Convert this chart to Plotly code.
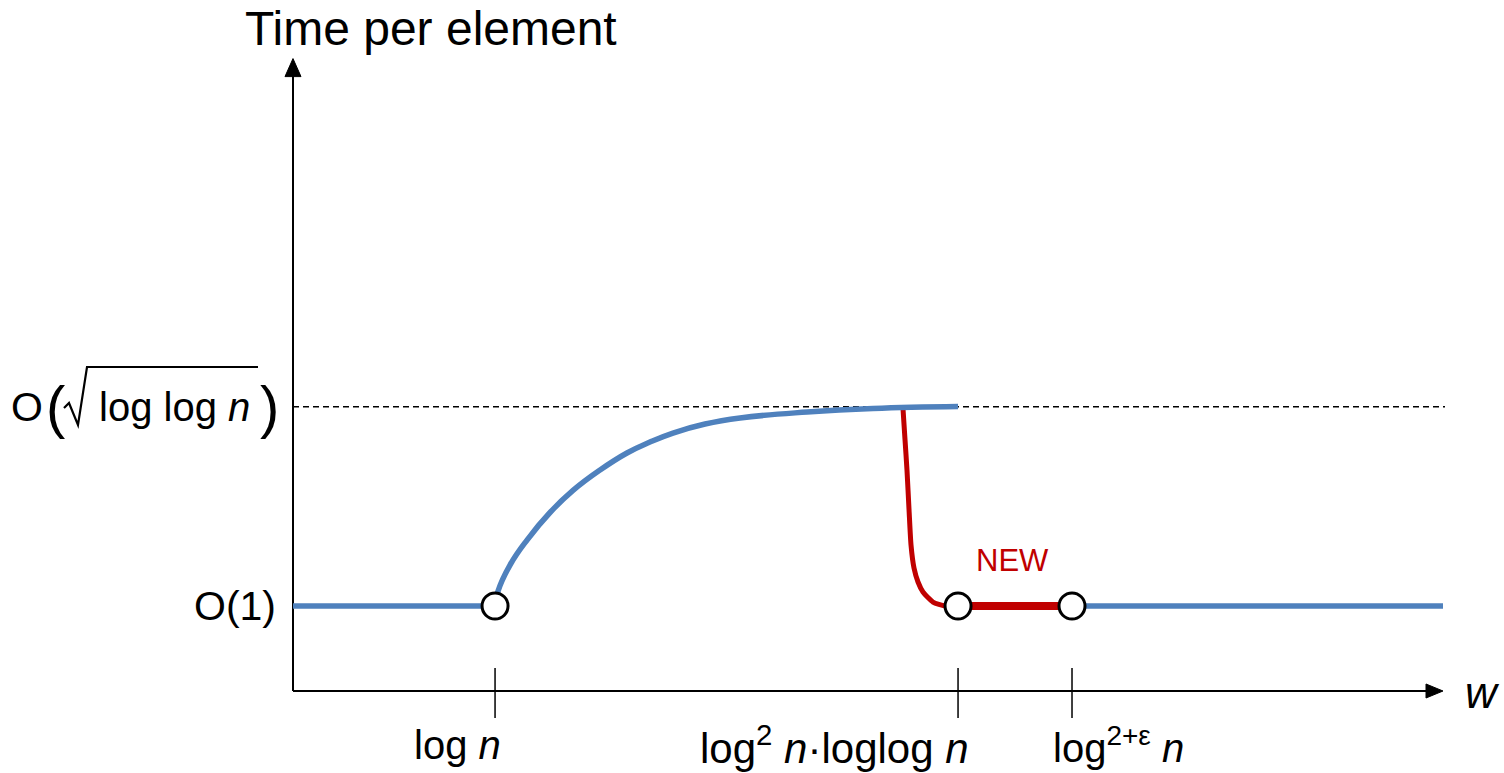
import plotly.graph_objects as go

# ---------------- data (abstract units: x = w, y = time per element) ----------------
Y_O1 = 1.0            # O(1) level
Y_SQRT = 3.345        # O(sqrt(loglog n)) level
X_END = 100.0         # end of the x axis
Y_AXIS_TOP = 7.44     # end of the y axis

tick_x = [17.57, 57.83, 67.74]
tick_labels = ["log <i>n</i>", "log<sup>2</sup> <i>n</i>·loglog <i>n</i>", "log<sup>2+ε</sup> <i>n</i>"]
tick_label_x = [14.3, 47.1, 71.8]
tick_label_size = [40, 42, 40]

blue_left_x = [0.0, 17.57]
blue_left_y = [1.0, 1.0]

blue_curve_x = [17.57, 17.83, 18.87, 20.35, 22.35, 24.35, 26.70, 29.04, 31.04, 33.04,
                35.83, 38.87, 44.70, 50.43, 57.83]
blue_curve_y = [1.0, 1.176, 1.482, 1.776, 2.100, 2.360, 2.600, 2.800, 2.929, 3.035,
                3.141, 3.212, 3.282, 3.324, 3.347]

red_curve_x = [53.04, 53.22, 53.39, 53.57, 53.74, 54.00, 54.35, 54.78, 55.65, 56.70, 57.83]
red_curve_y = [3.329, 2.953, 2.600, 2.129, 1.718, 1.447, 1.282, 1.165, 1.047, 1.0, 1.0]

red_flat_x = [57.83, 67.74]
red_flat_y = [1.0, 1.0]

blue_right_x = [67.74, 100.0]
blue_right_y = [1.0, 1.0]

circle_x = [17.57, 57.83, 67.74]
circle_y = [1.0, 1.0, 1.0]

# ---------------- geometry of the page ----------------
W, H = 1504, 773
X_PX0, X_SCALE = 293.0, 11.5     # pixel of x=0, px per unit
Y_PX0, Y_SCALE = 691.0, 85.0     # pixel of y=0, px per unit

def dx(px):
    return (px - X_PX0) / X_SCALE

def dy(py):
    return (Y_PX0 - py) / Y_SCALE

def tx(x):
    return X_PX0 + x * X_SCALE

def ty(y):
    return Y_PX0 - y * Y_SCALE

def paper_x(px):
    return px / W

def paper_y(py):
    return 1 - py / H

def paper_path(points, close=False):
    s = "M " + " L ".join(f"{paper_x(a):.5f},{paper_y(b):.5f}" for a, b in points)
    return s + (" Z" if close else "")

BLUE = "#4F81BD"
RED = "#C00000"
FONT = "Liberation Sans, Arial, sans-serif"

fig = go.Figure()

# axes lines
fig.add_trace(go.Scatter(x=[0, 0], y=[0, Y_AXIS_TOP - 0.15], mode="lines",
                         line=dict(color="black", width=2), hoverinfo="skip"))
fig.add_trace(go.Scatter(x=[0, X_END - 1.2], y=[0, 0], mode="lines",
                         line=dict(color="black", width=2), hoverinfo="skip"))

# dashed reference line
fig.add_trace(go.Scatter(x=[0, dx(1445)], y=[Y_SQRT, Y_SQRT], mode="lines",
                         line=dict(color="black", width=1.5, dash="6px,4px"),
                         hoverinfo="skip"))

# red drop curve (under blue)
fig.add_trace(go.Scatter(x=red_curve_x, y=red_curve_y, mode="lines",
                         line=dict(color=RED, width=5, shape="spline", smoothing=0.6),
                         hoverinfo="skip"))
fig.add_trace(go.Scatter(x=red_flat_x, y=red_flat_y, mode="lines",
                         line=dict(color=RED, width=8), hoverinfo="skip"))

# blue lines
for xs, ys in [(blue_left_x, blue_left_y), (blue_right_x, blue_right_y)]:
    fig.add_trace(go.Scatter(x=xs, y=ys, mode="lines",
                             line=dict(color=BLUE, width=5.5), hoverinfo="skip"))
fig.add_trace(go.Scatter(x=blue_curve_x, y=blue_curve_y, mode="lines",
                         line=dict(color=BLUE, width=5.5, shape="spline", smoothing=1.3),
                         hoverinfo="skip"))

# tick marks
for t in tick_x:
    fig.add_trace(go.Scatter(x=[t, t], y=[dy(668), dy(718)], mode="lines",
                             line=dict(color="black", width=1.5), hoverinfo="skip"))

# circles
fig.add_trace(go.Scatter(x=circle_x, y=circle_y, mode="markers",
                         marker=dict(symbol="circle", size=26, color="white",
                                     line=dict(color="black", width=3)),
                         hoverinfo="skip"))

annotations = []

# x tick labels
for lx, lab, sz in zip(tick_label_x, tick_labels, tick_label_size):
    annotations.append(dict(x=lx, y=dy(745), xref="x", yref="y", text=lab, showarrow=False,
                            xanchor="center", yanchor="middle",
                            font=dict(family=FONT, size=sz, color="black")))

# axis titles
annotations.append(dict(x=dx(431), y=dy(1), xref="x", yref="y", text="Time per element",
                        showarrow=False, xanchor="center", yanchor="top", borderpad=0,
                        font=dict(family=FONT, size=48, color="black")))
annotations.append(dict(x=dx(1482), y=dy(692), xref="x", yref="y", text="<i>w</i>",
                        showarrow=False, xanchor="center", yanchor="middle",
                        font=dict(family=FONT, size=44, color="black")))

# y labels
annotations.append(dict(x=dx(278), y=Y_O1, xref="x", yref="y", text="O(1)", showarrow=False,
                        xanchor="right", yanchor="middle",
                        font=dict(family=FONT, size=41, color="black")))
annotations.append(dict(x=dx(27), y=Y_SQRT, xref="x", yref="y", text="O", showarrow=False,
                        xanchor="center", yanchor="middle",
                        font=dict(family=FONT, size=41, color="black")))
annotations.append(dict(x=dx(55), y=Y_SQRT, xref="x", yref="y", text="(", showarrow=False,
                        xanchor="center", yanchor="middle",
                        font=dict(family=FONT, size=58, color="black")))
annotations.append(dict(x=dx(174), y=Y_SQRT, xref="x", yref="y", text="log log <i>n</i>",
                        showarrow=False, xanchor="center", yanchor="middle",
                        font=dict(family=FONT, size=40, color="black")))
annotations.append(dict(x=dx(269), y=Y_SQRT, xref="x", yref="y", text=")", showarrow=False,
                        xanchor="center", yanchor="middle",
                        font=dict(family=FONT, size=58, color="black")))

# NEW
annotations.append(dict(x=dx(1012), y=dy(560), xref="x", yref="y", text="NEW", showarrow=False,
                        xanchor="center", yanchor="middle",
                        font=dict(family=FONT, size=31, color=RED)))

# radical sign and arrowheads
rad = [(64, 408), (69, 403), (78, 425), (87, 367), (258, 367)]
ytip = (tx(0), ty(Y_AXIS_TOP))
xtip = (tx(X_END), ty(0))
arrow_up = [(ytip[0], ytip[1]), (ytip[0] - 8, ytip[1] + 18), (ytip[0] + 8, ytip[1] + 18)]
arrow_right = [(xtip[0], xtip[1]), (xtip[0] - 17, xtip[1] - 7), (xtip[0] - 17, xtip[1] + 7)]
shapes = [
    dict(type="path", path=paper_path(rad), xref="paper", yref="paper",
         line=dict(color="black", width=2.2)),
    dict(type="path", path=paper_path(arrow_up, True), xref="paper", yref="paper",
         fillcolor="black", line=dict(color="black", width=1)),
    dict(type="path", path=paper_path(arrow_right, True), xref="paper", yref="paper",
         fillcolor="black", line=dict(color="black", width=1)),
]

fig.update_layout(
    width=W, height=H,
    margin=dict(l=0, r=0, t=0, b=0, pad=0),
    paper_bgcolor="white", plot_bgcolor="white",
    showlegend=False,
    xaxis=dict(range=[dx(0), dx(W)], visible=False, fixedrange=True),
    yaxis=dict(range=[dy(H), dy(0)], visible=False, fixedrange=True),
    annotations=annotations,
    shapes=shapes,
)

fig.write_html("out.html", config={"displayModeBar": False},
               post_script="document.body.style.margin='0px';document.body.style.overflow='hidden';")
